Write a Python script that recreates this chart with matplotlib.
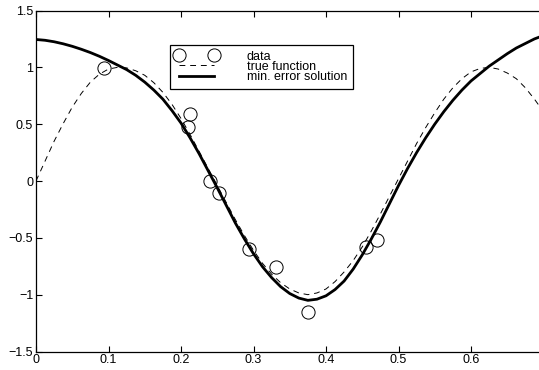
import matplotlib

matplotlib.use("Agg")
import matplotlib.pyplot as plt

plt.rcParams["font.family"] = ["Liberation Sans", "DejaVu Sans"]

# --- values -------------------------------------------------------------------
data_x = [0.094, 0.213, 0.209, 0.240, 0.253, 0.294, 0.331, 0.375, 0.455, 0.470]
data_y = [0.99, 0.59, 0.475, 0.0, -0.105, -0.60, -0.76, -1.15, -0.585, -0.515]

# both curves sampled every 0.0125 on x
curve_x = [0.0, 0.0125, 0.025, 0.0375, 0.05, 0.0625, 0.075, 0.0875,
           0.1, 0.1125, 0.125, 0.1375, 0.15, 0.1625, 0.175, 0.1875,
           0.2, 0.2125, 0.225, 0.2375, 0.25, 0.2625, 0.275, 0.2875,
           0.3, 0.3125, 0.325, 0.3375, 0.35, 0.3625, 0.375, 0.3875,
           0.4, 0.4125, 0.425, 0.4375, 0.45, 0.4625, 0.475, 0.4875,
           0.5, 0.5125, 0.525, 0.5375, 0.55, 0.5625, 0.575, 0.5875,
           0.6, 0.6125, 0.625, 0.6375, 0.65, 0.6625, 0.675, 0.6875, 0.7]
true_y = [0.0, 0.175, 0.35, 0.505, 0.65, 0.77, 0.87, 0.94,
          0.985, 1.0, 0.995, 0.97, 0.93, 0.865, 0.78, 0.675,
          0.55, 0.41, 0.26, 0.11, -0.04, -0.19, -0.34, -0.48,
          -0.61, -0.725, -0.82, -0.895, -0.95, -0.985, -1.0, -0.985,
          -0.95, -0.885, -0.80, -0.70, -0.58, -0.44, -0.29, -0.135,
          0.02, 0.175, 0.33, 0.47, 0.60, 0.72, 0.82, 0.90,
          0.96, 0.99, 1.0, 0.985, 0.95, 0.90, 0.82, 0.72, 0.61]
fit_y = [1.245, 1.238, 1.225, 1.207, 1.185, 1.159, 1.13, 1.097,
         1.06, 1.02, 0.98, 0.93, 0.87, 0.80, 0.72, 0.62,
         0.51, 0.38, 0.24, 0.09, -0.06, -0.215, -0.37, -0.51,
         -0.64, -0.755, -0.85, -0.93, -0.99, -1.03, -1.05, -1.04,
         -1.01, -0.955, -0.88, -0.775, -0.65, -0.51, -0.36, -0.20,
         -0.04, 0.11, 0.25, 0.38, 0.50, 0.61, 0.71, 0.80,
         0.88, 0.945, 1.01, 1.065, 1.12, 1.17, 1.21, 1.25, 1.28]

labels = ["data", "true function", "min. error solution"]
xticks = [0, 0.1, 0.2, 0.3, 0.4, 0.5, 0.6]
yticks = [-1.5, -1, -0.5, 0, 0.5, 1, 1.5]

# --- figure -------------------------------------------------------------------
fig = plt.figure(figsize=(5.39, 3.70), dpi=100)
ax = fig.add_axes([36 / 539, 18.5 / 370, 507.5 / 539, 341 / 370])

ax.plot(data_x, data_y, "o", mfc="none", mec="black", mew=0.7, ms=9.5,
        color="black", label=labels[0])
ax.plot(curve_x, true_y, color="black", lw=0.7, dashes=(6, 5), label=labels[1])
ax.plot(curve_x, fit_y, color="black", lw=2.0, label=labels[2])

ax.set_xlim(0, 0.7)
ax.set_ylim(-1.5, 1.5)
ax.set_xticks(xticks)
ax.set_xticklabels(["0", "0.1", "0.2", "0.3", "0.4", "0.5", "0.6"])
ax.set_yticks(yticks)
ax.set_yticklabels(["\u22121.5", "\u22121", "\u22120.5", "0", "0.5", "1", "1.5"])
ax.tick_params(direction="in", length=4, width=0.8, labelsize=9, pad=2,
               top=True, right=False, colors="black")
for sp in ax.spines.values():
    sp.set_linewidth(0.9)

leg = ax.legend(loc="upper left", bbox_to_anchor=(0.264, 0.899), numpoints=2,
                fontsize=9, handlelength=3.4, handletextpad=2.3,
                labelspacing=-0.14, borderpad=0.45, borderaxespad=0,
                fancybox=False, framealpha=1, edgecolor="black")
leg.get_frame().set_linewidth(0.9)

fig.savefig("out.png", dpi=100)
